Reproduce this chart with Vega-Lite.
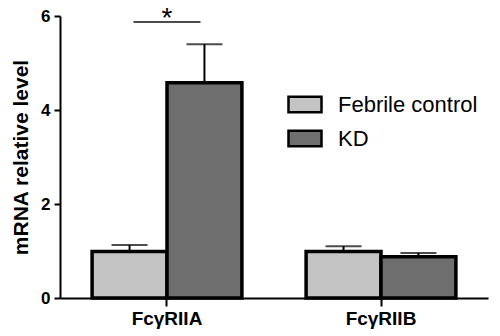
{
  "$schema": "https://vega.github.io/schema/vega-lite/v6.json",
  "width": 428,
  "height": 282,
  "autosize": "none",
  "padding": {"left": 60, "top": 16, "right": 12, "bottom": 38},
  "background": "white",
  "config": {"view": {"stroke": null}, "font": "Liberation Sans"},
  "data": {"values": [
    {"gene": "FcγRIIA", "group": "Febrile control", "mean": 0.99, "upper": 1.13},
    {"gene": "FcγRIIA", "group": "KD", "mean": 4.58, "upper": 5.4},
    {"gene": "FcγRIIB", "group": "Febrile control", "mean": 0.99, "upper": 1.1},
    {"gene": "FcγRIIB", "group": "KD", "mean": 0.88, "upper": 0.96}
  ]},
  "layer": [
    {
      "mark": {"type": "bar", "stroke": "black", "strokeWidth": 3.5, "opacity": 1},
      "encoding": {
        "x": {"field": "gene", "type": "nominal", "sort": null,
          "scale": {"paddingInner": 0.3, "paddingOuter": 0.15},
          "axis": {"title": null, "labelAngle": 0, "labelFont": "Liberation Sans", "labelFontSize": 19, "labelFontWeight": "bold", "labelColor": "black", "domainColor": "black", "domainWidth": 2, "tickColor": "black", "tickWidth": 2, "tickSize": 8, "labelPadding": 3}},
        "xOffset": {"field": "group", "type": "nominal", "sort": null},
        "y": {"field": "mean", "type": "quantitative",
          "scale": {"domain": [0, 6], "nice": false},
          "axis": {"title": "mRNA relative level", "values": [0, 2, 4, 6], "grid": false, "labelFont": "Liberation Sans", "labelFontSize": 17, "labelFontWeight": "bold", "labelColor": "black", "titleFont": "Liberation Sans", "titleFontSize": 21, "titleFontWeight": "bold", "titleColor": "black", "titlePadding": 9, "domainColor": "black", "domainWidth": 2, "tickColor": "black", "tickWidth": 2, "tickSize": 6, "labelPadding": 4}},
        "color": {"field": "group", "type": "nominal", "sort": null,
          "scale": {"range": ["#c4c4c4", "#6e6e6e"]},
          "legend": {"title": null, "orient": "none", "legendX": 232.5, "legendY": 76,
            "symbolType": "M-1.5,-0.7H1.5V0.7H-1.5Z", "symbolSize": 484, "symbolStrokeColor": "black", "symbolStrokeWidth": 2.5, "symbolOpacity": 1,
            "labelFont": "Liberation Sans", "labelFontSize": 22, "labelColor": "black", "labelOffset": 20.5, "rowPadding": 7}}
      }
    },
    {
      "mark": {"type": "rule", "color": "black", "strokeWidth": 2},
      "encoding": {
        "x": {"field": "gene", "type": "nominal", "sort": null},
        "xOffset": {"field": "group", "type": "nominal", "sort": null},
        "y": {"field": "mean", "type": "quantitative"},
        "y2": {"field": "upper"}
      }
    },
    {
      "mark": {"type": "tick", "color": "black", "thickness": 2, "size": 36, "orient": "horizontal"},
      "encoding": {
        "x": {"field": "gene", "type": "nominal", "sort": null},
        "xOffset": {"field": "group", "type": "nominal", "sort": null},
        "y": {"field": "upper", "type": "quantitative"}
      }
    },
    {
      "data": {"values": [{"gene": "FcγRIIA", "y": 5.87}]},
      "mark": {"type": "tick", "color": "black", "thickness": 2, "size": 67, "orient": "horizontal"},
      "encoding": {
        "x": {"field": "gene", "type": "nominal", "sort": null},
        "y": {"field": "y", "type": "quantitative"}
      }
    },
    {
      "data": {"values": [{"gene": "FcγRIIA", "label": "*", "ty": 6.0}]},
      "mark": {"type": "text", "color": "black", "fontSize": 28, "font": "Liberation Sans", "baseline": "bottom", "dy": 17},
      "encoding": {
        "x": {"field": "gene", "type": "nominal", "sort": null},
        "y": {"field": "ty", "type": "quantitative"},
        "text": {"field": "label"}
      }
    }
  ]
}
